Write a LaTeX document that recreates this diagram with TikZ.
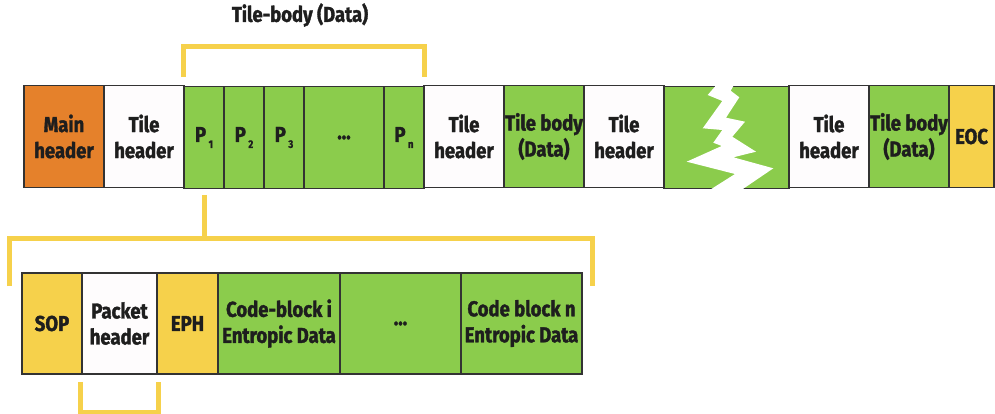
\documentclass[tikz,border=0pt]{standalone}
\usepackage{fontspec}
\setmainfont[FakeStretch=0.86, BoldFeatures={FakeBold=1.6}]{Fira Sans}
\definecolor{orangeC}{HTML}{E5812B}
\definecolor{greenC}{HTML}{8BCC4C}
\definecolor{yellowC}{HTML}{F6D14B}
\definecolor{whiteC}{HTML}{FEFCFD}
\definecolor{borderC}{HTML}{333333}
\definecolor{textC}{HTML}{1E1E1E}
\definecolor{bracketC}{HTML}{F6D14B}
\newcommand\psub[2]{#1\kern2.5pt\raisebox{-6pt}{\fontsize{11}{11}\selectfont #2}}
\begin{document}
\begin{tikzpicture}[x=1pt,y=-1pt,
  lbl/.style={text=textC, font=\fontsize{21.5}{26}\selectfont\bfseries, align=center},
  cell/.style={lbl, draw=borderC, line width=1.8pt, inner sep=0pt, minimum height=102pt},
  cellb/.style={cell, minimum height=101pt},
  bracket/.style={draw=bracketC, line width=5pt, line join=miter, line cap=butt}]
\useasboundingbox (0,0) rectangle (995,414);
% top row
\node[cell, fill=orangeC, minimum width=80pt] (mh) at (64,136.5) {Main\\header};
\node[cell, fill=whiteC, minimum width=80pt] (th1) at (144,136.5) {Tile\\header};
\node[cell, fill=greenC, minimum width=40pt] (p1) at (204,137.5) {\psub{P}{1}};
\node[cell, fill=greenC, minimum width=40pt] (p2) at (244,137.5) {\psub{P}{2}};
\node[cell, fill=greenC, minimum width=40pt] (p3) at (284,137.5) {\psub{P}{3}};
\node[cell, fill=greenC, minimum width=80pt] (pd) at (344,137.5) {...};
\node[cell, fill=greenC, minimum width=40pt] (pn) at (404,137.5) {\psub{P}{n}};
\node[cell, fill=whiteC, minimum width=80pt] (th2) at (464,136.5) {Tile\\header};
\node[cell, fill=greenC, minimum width=80pt] (tb2) at (544,136.5) {Tile body\\(Data)};
\node[cell, fill=whiteC, minimum width=80pt] (th3) at (624,136.5) {Tile\\header};
\node[cell, fill=greenC, minimum width=125pt] (gap) at (726.5,137.5) {};
\node[cell, fill=whiteC, minimum width=80pt] (th4) at (829,136.5) {Tile\\header};
\node[cell, fill=greenC, minimum width=80pt] (tb4) at (909,136.5) {Tile body\\(Data)};
\node[cell, fill=yellowC, minimum width=45pt] (eoc) at (971.5,136.5) {EOC};
% break
\fill[white] (718,83) -- (707.7,95) -- (722.3,101) -- (702.7,128.3) -- (722.3,130)
  -- (713.3,142.7) -- (721.7,146) -- (686.7,161.7) -- (735,174) -- (705,193)
  -- (737,193) -- (773.3,168.3) -- (733.3,157.3) -- (756,151.7) -- (732.3,136.7)
  -- (745,121.7) -- (726,117.7) -- (739.3,97.3) -- (730.7,90.7) -- (735,83) -- cycle;
% label
\node[lbl] (tbl) at (300,15) {Tile-body (Data)};
% bottom row
\node[cellb, fill=yellowC, minimum width=60pt] (sop) at (52,323.5) {SOP};
\node[cellb, fill=whiteC, minimum width=75pt] (ph) at (119.5,323.5) {Packet\\header};
\node[cellb, fill=yellowC, minimum width=61pt] (eph) at (187.5,323.5) {EPH};
\node[cellb, fill=greenC, minimum width=122pt] (cb) at (279,323.5) {Code-block i\\Entropic Data};
\node[cellb, fill=greenC, minimum width=121pt] (cd) at (400.5,323.5) {...};
\node[cellb, fill=greenC, minimum width=121pt] (cn) at (521.5,323.5) {Code block n\\Entropic Data};
% brackets
\draw[bracket] ([yshift=8.5pt]p1.north west) -- ++(0,-31) -| ([yshift=8.5pt]pn.north east);
\coordinate (lbL) at (9.5,286);
\coordinate (lbR) at (592,286);
\draw[bracket] ([yshift=-5.5pt]p1.south) -- (p1.south |- lbL |- 0,238.5);
\draw[bracket] (lbL) |- (lbR |- 0,238.5) -- (lbR);
\draw[bracket] ([yshift=-7pt,xshift=-1pt]ph.south west) -- ++(0,30.5) -| ([yshift=-7pt,xshift=1pt]ph.south east);
\end{tikzpicture}
\end{document}
